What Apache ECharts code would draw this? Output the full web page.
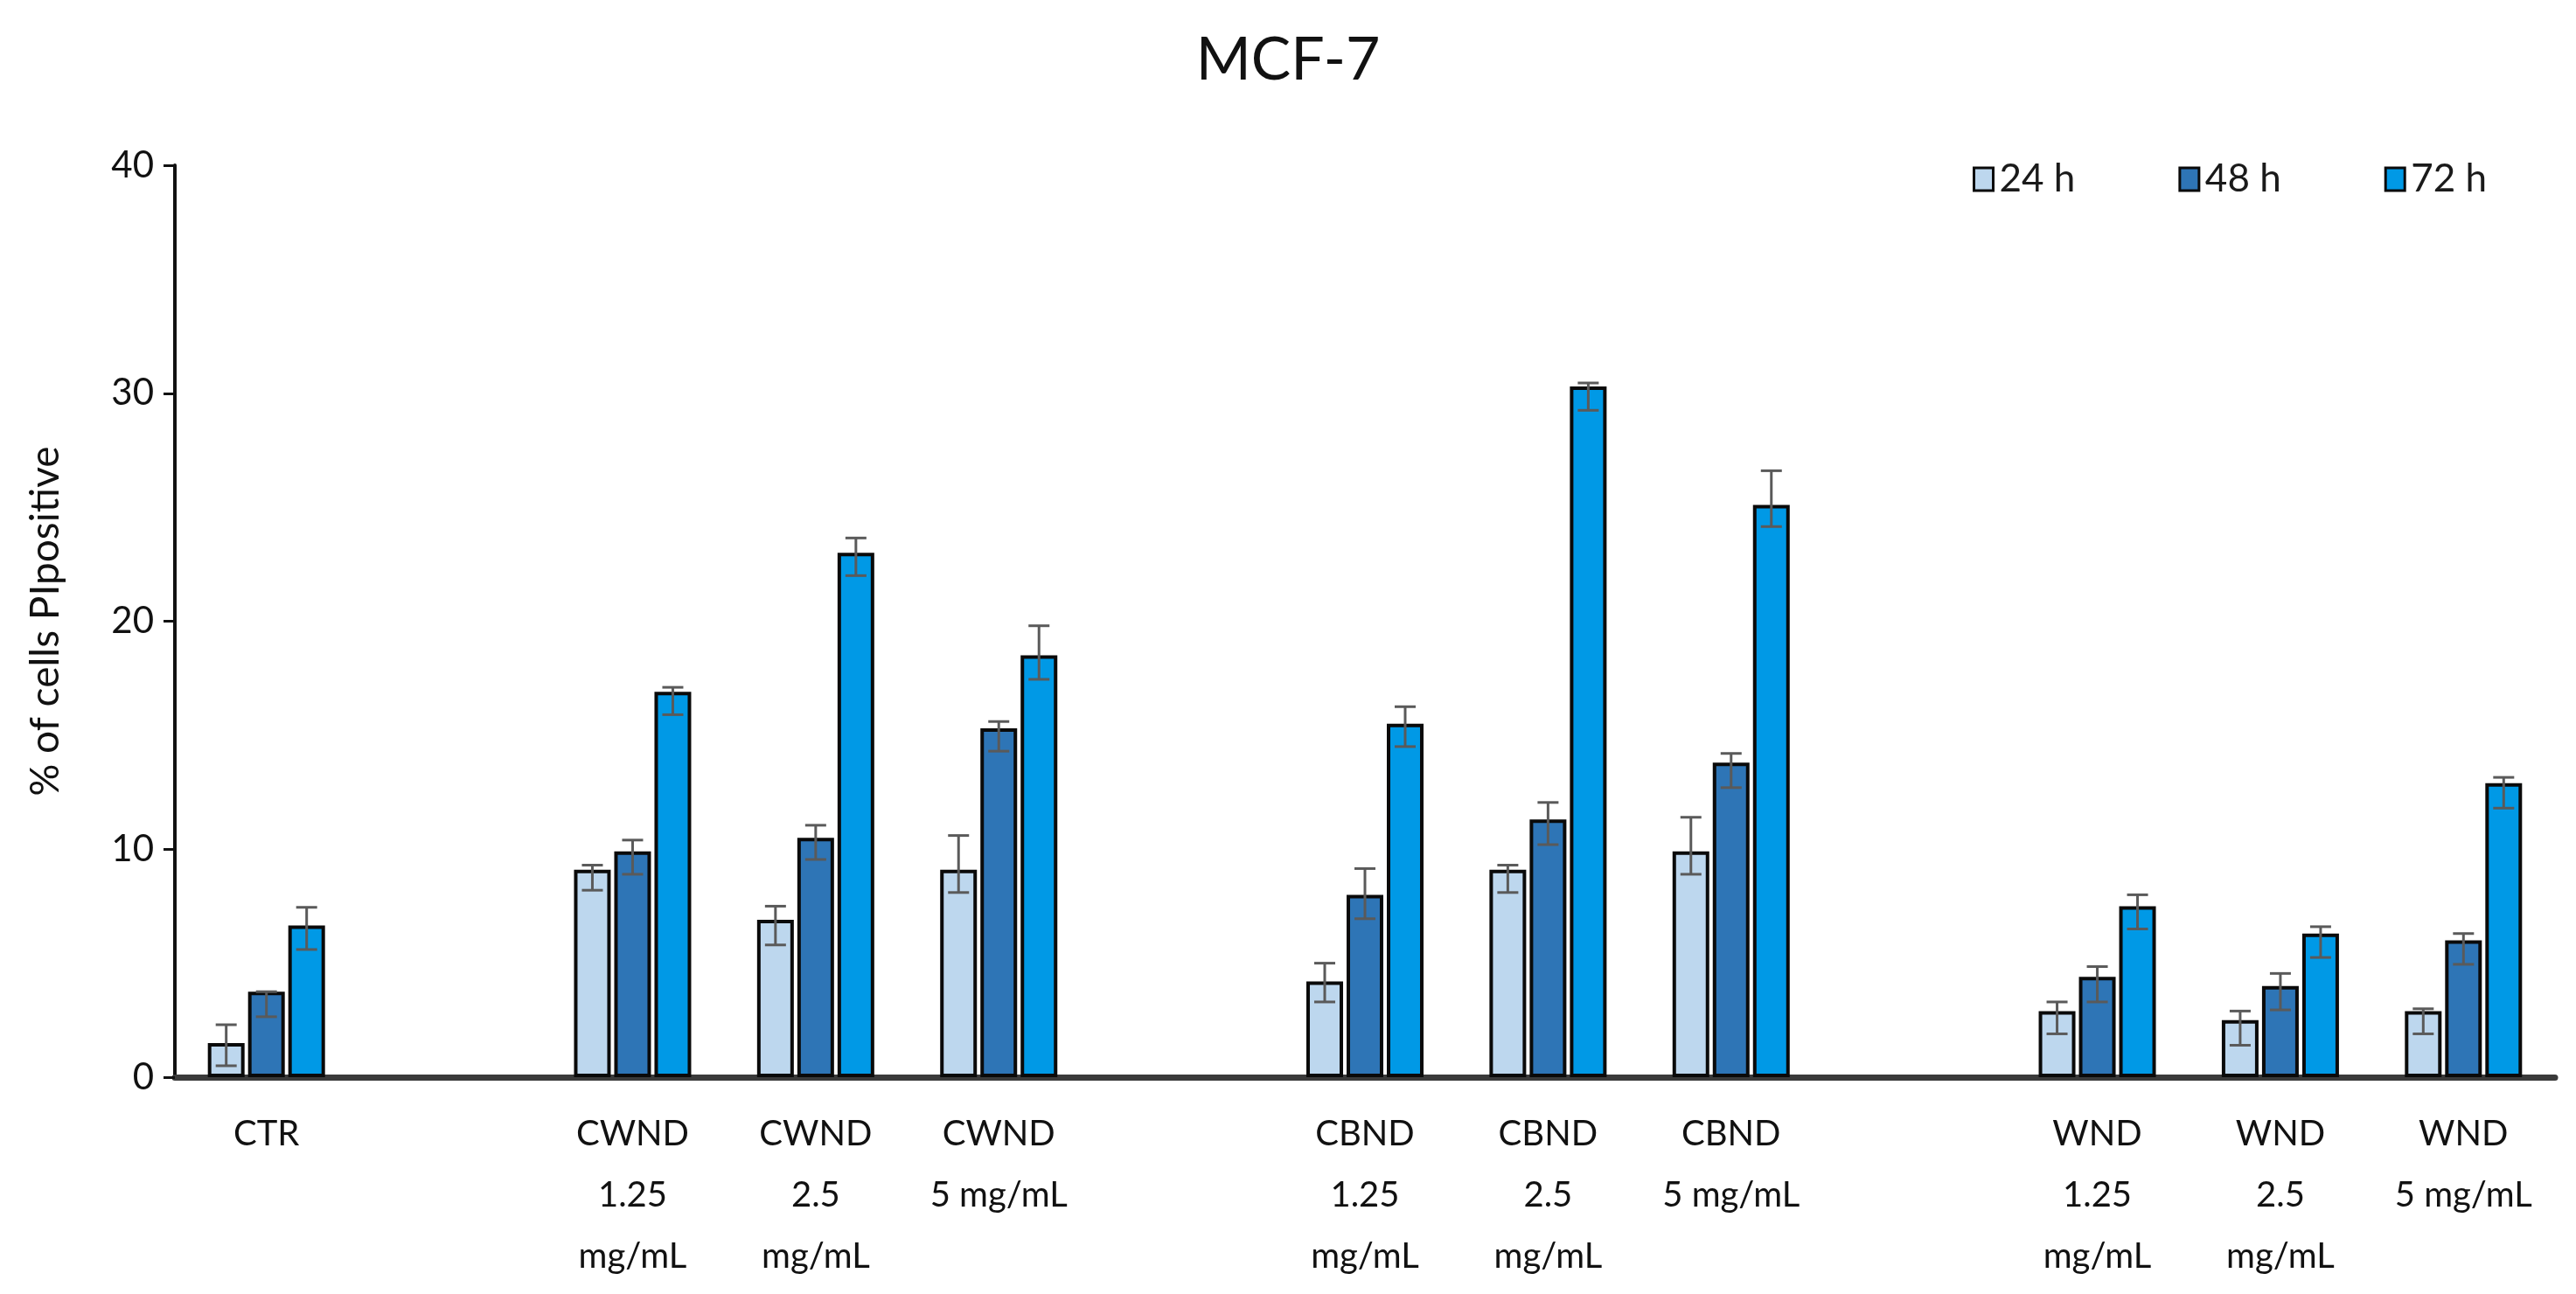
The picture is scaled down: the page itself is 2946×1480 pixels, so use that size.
<!DOCTYPE html>
<html>
<head>
<meta charset="utf-8">
<script src="https://cdn.jsdelivr.net/npm/echarts@6/dist/echarts.min.js"></script>
<style>
html,body{margin:0;padding:0;background:#fff;}
#chart{width:2946px;height:1480px;}
</style>
</head>
<body>
<div id="chart"></div>
<script>
const categories = ['CTR', '', 'CWND\n1.25\nmg/mL', 'CWND\n2.5\nmg/mL', 'CWND\n5 mg/mL', '',
  'CBND\n1.25\nmg/mL', 'CBND\n2.5\nmg/mL', 'CBND\n5 mg/mL', '',
  'WND\n1.25\nmg/mL', 'WND\n2.5\nmg/mL', 'WND\n5 mg/mL'];
const seriesNames = ['24 h', '48 h', '72 h'];
const values24 = [1.5, '-', 9.1, 6.9, 9.1, '-', 4.2, 9.1, 9.9, '-', 2.9, 2.5, 2.9];
const values48 = [3.75, '-', 9.9, 10.5, 15.3, '-', 8.0, 11.3, 13.8, '-', 4.4, 4.0, 6.0];
const values72 = [6.65, '-', 16.9, 23.0, 18.5, '-', 15.5, 30.3, 25.1, '-', 7.5, 6.3, 12.9];
const errLow24 = [0.5, '-', 8.2, 5.8, 8.1, '-', 3.3, 8.1, 8.9, '-', 1.9, 1.4, 1.9];
const errHigh24 = [2.3, '-', 9.3, 7.5, 10.6, '-', 5.0, 9.3, 11.4, '-', 3.3, 2.9, 3.0];
const errLow48 = [2.65, '-', 8.9, 9.55, 14.3, '-', 6.95, 10.2, 12.7, '-', 3.3, 2.95, 4.95];
const errHigh48 = [3.75, '-', 10.4, 11.05, 15.6, '-', 9.15, 12.05, 14.2, '-', 4.85, 4.55, 6.3];
const errLow72 = [5.6, '-', 15.9, 22.0, 17.45, '-', 14.5, 29.25, 24.15, '-', 6.5, 5.25, 11.8];
const errHigh72 = [7.45, '-', 17.1, 23.65, 19.8, '-', 16.25, 30.45, 26.6, '-', 8.0, 6.6, 13.15];
const yTicks = [0, 10, 20, 30, 40];

const colors = ['#BDD7EE', '#2E75B6', '#0099E6'];
const FONT = 'Lato, "Open Sans", sans-serif';
const BAR_W = 42;
const BAR_GAP_PX = 4;

const values = [values24, values48, values72];
const lows = [errLow24, errLow48, errLow72];
const highs = [errHigh24, errHigh48, errHigh72];

const chart = echarts.init(document.getElementById('chart'));

const barSeries = seriesNames.map((name, i) => ({
  name: name,
  type: 'bar',
  data: values[i],
  barWidth: BAR_W,
  barGap: (BAR_GAP_PX / BAR_W * 100) + '%',
  itemStyle: { color: colors[i], borderColor: '#0a0a0a', borderWidth: 4 },
  z: 2
}));

const errSeries = seriesNames.map((name, i) => {
  const data = [];
  categories.forEach((c, k) => {
    if (lows[i][k] !== '-') data.push([k, lows[i][k], highs[i][k]]);
  });
  const offset = (i - 1) * (BAR_W + BAR_GAP_PX);
  return {
    type: 'custom',
    name: name + ' err',
    data: data,
    encode: { x: 0, y: [1, 2] },
    z: 10,
    silent: true,
    renderItem: function (params, api) {
      const lo = api.coord([api.value(0), api.value(1)]);
      const hi = api.coord([api.value(0), api.value(2)]);
      const x = lo[0] + offset;
      const cap = 12;
      const style = { stroke: '#5a5a5a', lineWidth: 3, fill: null };
      return {
        type: 'group',
        children: [
          { type: 'line', shape: { x1: x, y1: lo[1], x2: x, y2: hi[1] }, style: style },
          { type: 'line', shape: { x1: x - cap, y1: lo[1], x2: x + cap, y2: lo[1] }, style: style },
          { type: 'line', shape: { x1: x - cap, y1: hi[1], x2: x + cap, y2: hi[1] }, style: style }
        ]
      };
    }
  };
});

const option = {
  backgroundColor: '#ffffff',
  animation: false,
  title: {
    text: 'MCF-7',
    left: 'center',
    top: 30,
    textStyle: { fontFamily: FONT, fontSize: 68, fontWeight: 'normal', color: '#111' }
  },
  legend: {
    data: seriesNames,
    left: 2251,
    top: 178,
    itemWidth: 22,
    itemHeight: 26,
    itemGap: 118,
    icon: 'rect',
    itemStyle: { borderColor: '#0a0a0a', borderWidth: 3 },
    textStyle: { fontFamily: FONT, fontSize: 44, color: '#1a1a1a', padding: [0, 0, 0, 2] }
  },
  grid: { left: 200, right: 24, top: 189, bottom: 248, containLabel: false },
  xAxis: {
    type: 'category',
    data: categories,
    axisLine: { show: true, lineStyle: { color: '#3a3a3a', width: 7 } },
    axisTick: { show: false },
    axisLabel: {
      interval: 0,
      margin: 30,
      fontFamily: FONT,
      fontSize: 40,
      lineHeight: 70,
      color: '#111',
      align: 'center'
    },
    splitLine: { show: false }
  },
  yAxis: {
    type: 'value',
    min: 0,
    max: 40,
    interval: 10,
    name: '% of cells PIpositive',
    nameLocation: 'middle',
    nameGap: 125,
    nameTextStyle: { fontFamily: FONT, fontSize: 46, color: '#111' },
    axisLine: { show: true, lineStyle: { color: '#111', width: 4 } },
    axisTick: { show: true, length: 13, lineStyle: { color: '#111', width: 3 } },
    axisLabel: {
      fontFamily: FONT, fontSize: 42, color: '#111', margin: 24,
      formatter: function (v) { return yTicks.indexOf(v) >= 0 ? String(v) : ''; }
    },
    splitLine: { show: false }
  },
  series: barSeries.concat(errSeries)
};
chart.setOption(option);
</script>
</body>
</html>
